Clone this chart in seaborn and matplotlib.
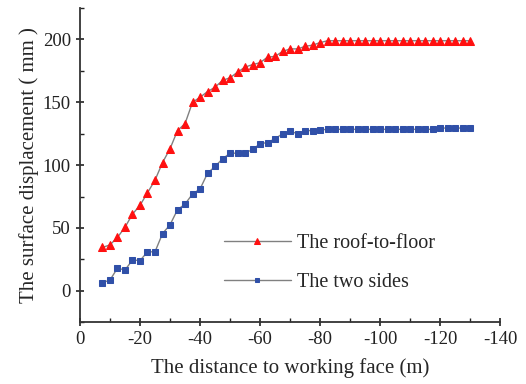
import numpy as np
import pandas as pd
import seaborn as sns
import matplotlib.pyplot as plt
from matplotlib.ticker import MultipleLocator

# distance to working face (m)
distance = [-7.5 - 2.5 * i for i in range(50)]

# roof-to-floor displacement (mm)
roof_floor = [34.5, 36.5, 42.5, 50.5, 61, 68, 78, 88, 102, 113,
              127.5, 133, 150, 154, 158.5, 162, 167.5, 169.5, 174, 178,
              180, 181.5, 186, 186.5, 190.5, 192.5, 192.5, 194.5, 195.5, 197.5,
              199, 199, 199, 199, 199, 199, 199, 199, 199, 199,
              199, 199, 199, 199, 199, 199, 199, 199, 199, 199]

# two sides displacement (mm)
two_sides = [6.5, 8.5, 18, 16.5, 24.5, 24, 31, 31, 45.5, 52.5,
             64.5, 69, 77, 81, 93.5, 99, 105, 109.5, 109.5, 109.5,
             112.5, 117, 118, 121, 125, 127, 125, 127.5, 127.5, 128,
             128.5, 128.5, 128.5, 128.5, 128.5, 128.5, 128.5, 128.5, 128.5, 128.5,
             128.5, 128.5, 128.5, 128.5, 128.5, 129.5, 129.5, 129.5, 129.5, 129.5]

df = pd.DataFrame({"distance": distance, "roof": roof_floor, "sides": two_sides})

sns.set_style("ticks")
plt.rcParams['font.family'] = ['Liberation Serif', 'DejaVu Serif']
plt.rcParams['axes.unicode_minus'] = False

fig = plt.figure(figsize=(5.26, 3.84), dpi=100)
ax = fig.add_axes([0.152, 0.161, 0.799, 0.818])

sns.lineplot(data=df, x="distance", y="roof", ax=ax, color="#808080", lw=1,
             marker="^", markersize=6, markerfacecolor="#ff1010",
             markeredgecolor="#ff1010", label="The roof-to-floor")
sns.lineplot(data=df, x="distance", y="sides", ax=ax, color="#808080", lw=1,
             marker="s", markersize=5, markerfacecolor="#3050a8",
             markeredgecolor="#3050a8", label="The two sides")

ax.set_xlim(0, -140)
ax.set_ylim(-25, 225)
ax.xaxis.set_major_locator(MultipleLocator(20))
ax.xaxis.set_minor_locator(MultipleLocator(10))
ax.yaxis.set_major_locator(MultipleLocator(50))
ax.yaxis.set_minor_locator(MultipleLocator(25))
ax.tick_params(which="major", direction="inout", length=6, width=1.2,
               labelsize=13.5, colors="#222222")
ax.tick_params(which="minor", direction="in", length=3, width=1.0, colors="#222222")

sns.despine(ax=ax)
for s in ["left", "bottom"]:
    ax.spines[s].set_linewidth(1.3)
    ax.spines[s].set_color("#333333")

ax.set_xlabel("The distance to working face (m)", fontsize=15, labelpad=7)
ax.set_ylabel("The surface displacement ( mm )", fontsize=15, labelpad=3)

ax.legend(loc="upper left", bbox_to_anchor=(0.3, 0.34), frameon=False,
          fontsize=14.5, handlelength=3.3, handletextpad=0.3, labelspacing=1.0,
          markerscale=0.7)

fig.savefig("out.png", dpi=100)
